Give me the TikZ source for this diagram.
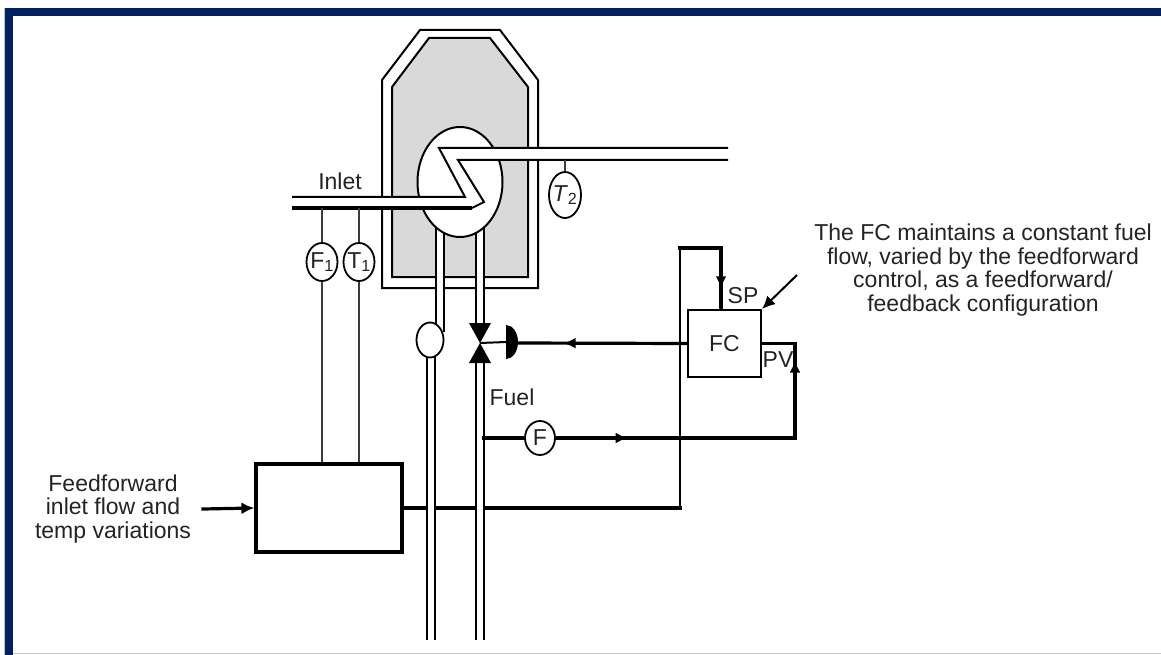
\documentclass[tikz,border=0pt]{standalone}
\usepackage{fontspec}
\setmainfont{Liberation Sans}
\usepackage{tikz}
\usetikzlibrary{shapes,arrows,positioning,calc,decorations.markings,arrows.meta}

\definecolor{navyframe}{RGB}{0,32,96}
\definecolor{edgegrey}{RGB}{188,198,214}
\definecolor{furnacegrey}{RGB}{217,217,217}
\definecolor{inkgrey}{RGB}{35,35,35}
\definecolor{stemgrey}{RGB}{60,60,60}

\tikzset{
  sig/.style={line width=3.2pt,line cap=rect},
  wire/.style={line width=2pt},
  stem/.style={line width=1.5pt,stemgrey},
  lbl/.style={text=inkgrey,font=\fontsize{23}{23.5}\selectfont},
  instr/.style={ellipse,draw,line width=1.8pt,fill=white,inner xsep=-2.5pt,inner ysep=0pt},
  tip/.style={-{Latex[length=13pt,width=12pt]}},
  midarrow/.style={postaction={decorate},decoration={markings,
    mark=at position #1 with {\arrow{Latex[length=12pt,width=11pt]}}}},
}

% a straight piece of pipe: left x, right x, top y, bottom y
\newcommand{\pipepiece}[4]{%
  \fill[white] (#1,#3) rectangle (#2,#4);
  \draw[wire] (#1,#3) -- (#1,#4) (#2,#3) -- (#2,#4);}

\begin{document}
\begin{tikzpicture}[x=1pt,y=-1pt]
    \useasboundingbox (0,0) rectangle (1161,655);

    % frame of the slide
    \fill[navyframe] (5,8) rectangle (1161,16);
    \fill[navyframe] (5,8) rectangle (13,655);
    \draw[edgegrey,line width=1pt] (13,653.5) -- (1161,653.5);
    \draw[edgegrey,line width=1pt] (4.5,8) -- (4.5,655);

    % furnace walls
    \draw[wire,fill=white] (382,288) -- (382,80) -- (420,30) -- (500,30) -- (538,80) -- (538,288) -- cycle;
    \draw[wire,fill=furnacegrey] (392,277) -- (392,87) -- (429,38) -- (490,38) -- (528,87) -- (528,277) -- cycle;

    % boxes
    \node[draw,sig,minimum width=146,minimum height=88,inner sep=0] (ffbox) at (329,508) {};
    \node[draw,wire,lbl,minimum width=73,minimum height=67,inner sep=0] (fc) at (724.5,343.5) {FC};

    % feedforward signal to the SP input
    \coordinate (ffin) at (203,509);
    \coordinate (spturn) at (680,248);
    \coordinate (sptop) at (721,248);
    \draw[sig,tip] (ffin) -- (ffbox.west);
    \draw[sig] (ffbox.east) -- (ffbox.east -| spturn);
    \draw[wire] (ffbox.east -| spturn) -- (spturn);
    \draw[sig] (spturn) -- (sptop);
    \draw[sig,midarrow=0.66] (sptop) -- (sptop |- fc.north);

    % fuel pipes (cover the signal line)
    \pipepiece{475.5}{483.5}{215}{323}
    \pipepiece{475.5}{483.5}{363}{640}
    \pipepiece{436}{444}{215}{332}
    \pipepiece{427}{435}{348}{640}

    % coil chamber and the process pipe
    \node[draw,wire,ellipse,fill=white,minimum width=85,minimum height=110] (coil) at (460,182) {};
    \fill[white] (292,197) -- (465,197) -- (439,148) -- (728,148) -- (728,160) -- (458,160)
        -- (484,202) -- (472,208) -- (292,208) -- cycle;
    \draw[wire] (292,197) -- (465,197) -- (439,148) -- (728,148);
    \draw[wire] (728,160) -- (458,160) -- (484,202) -- (472,208);
    \draw[sig,line cap=butt] (472,208) -- (292,208);
    \coordinate (inletbot) at (300,208);
    \coordinate (outletbot) at (600,160);

    % burner element and fuel valve
    \node[instr,minimum width=27,minimum height=35] (sight) at (430,340) {};
    \coordinate (valve) at (480,343);
    \coordinate (act) at (506,342);
    \coordinate (acte) at (518,343);
    \fill (469,323) -- (491,323) -- (valve) -- cycle;
    \fill (469,363) -- (491,363) -- (valve) -- cycle;
    \draw[wire] (valve) -- (act);
    \fill (act) ++(0,-17) arc[start angle=90,end angle=-90,x radius=12pt,y radius=17pt] -- cycle;

    % instruments
    \node[instr,lbl,minimum width=31,minimum height=38] (f1) at (322,262) {F\textsubscript{1}};
    \node[instr,lbl,minimum width=31,minimum height=38] (t1) at (359,262) {T\textsubscript{1}};
    \node[instr,lbl,minimum width=32,minimum height=46] (t2) at (565,195) {\textit{T}\textsubscript{2}};
    \node[instr,lbl,minimum width=30,minimum height=34] (fmeter) at (540,438) {F};
    \draw[stem] (f1.north) -- (f1.north |- inletbot);
    \draw[stem] (t1.north) -- (t1.north |- inletbot);
    \draw[stem] (f1.south) -- (f1.south |- ffbox.north);
    \draw[stem] (t1.south) -- (t1.south |- ffbox.north);
    \draw[stem] (t2.north) -- (t2.north |- outletbot);

    % controller output and fuel flow measurement
    \coordinate (ftap) at (483.5,438);
    \coordinate (pvturn) at (795,438);
    \draw[sig,midarrow=0.73] (fc.west) -- (acte);
    \draw[sig] (ftap) -- (fmeter.west);
    \draw[sig,midarrow=0.3] (fmeter.east) -- (pvturn);
    \draw[sig,midarrow=0.82] (pvturn) -- (pvturn |- fc.east);
    \draw[sig] (pvturn |- fc.east) -- (fc.east);

    % texts
    \node[lbl] (inlet) at (340,181) {Inlet};
    \node[lbl] (fuel) at (512,397) {Fuel};
    \node[lbl] (sp) at (743,296) {SP};
    \node[lbl] (pv) at (778,360) {PV};
    \node[lbl,align=center] (fftext) at (113,509) {Feedforward\\inlet flow and\\temp variations};
    \node[lbl,align=center] (note) at (983,270) {The FC maintains a constant fuel\\flow, varied by the feedforward\\control, as a feedforward/\\feedback configuration};
    \coordinate (notetail) at (797,275);
    \draw[wire,tip] (notetail) -- (fc.north east);
\end{tikzpicture}
\end{document}
